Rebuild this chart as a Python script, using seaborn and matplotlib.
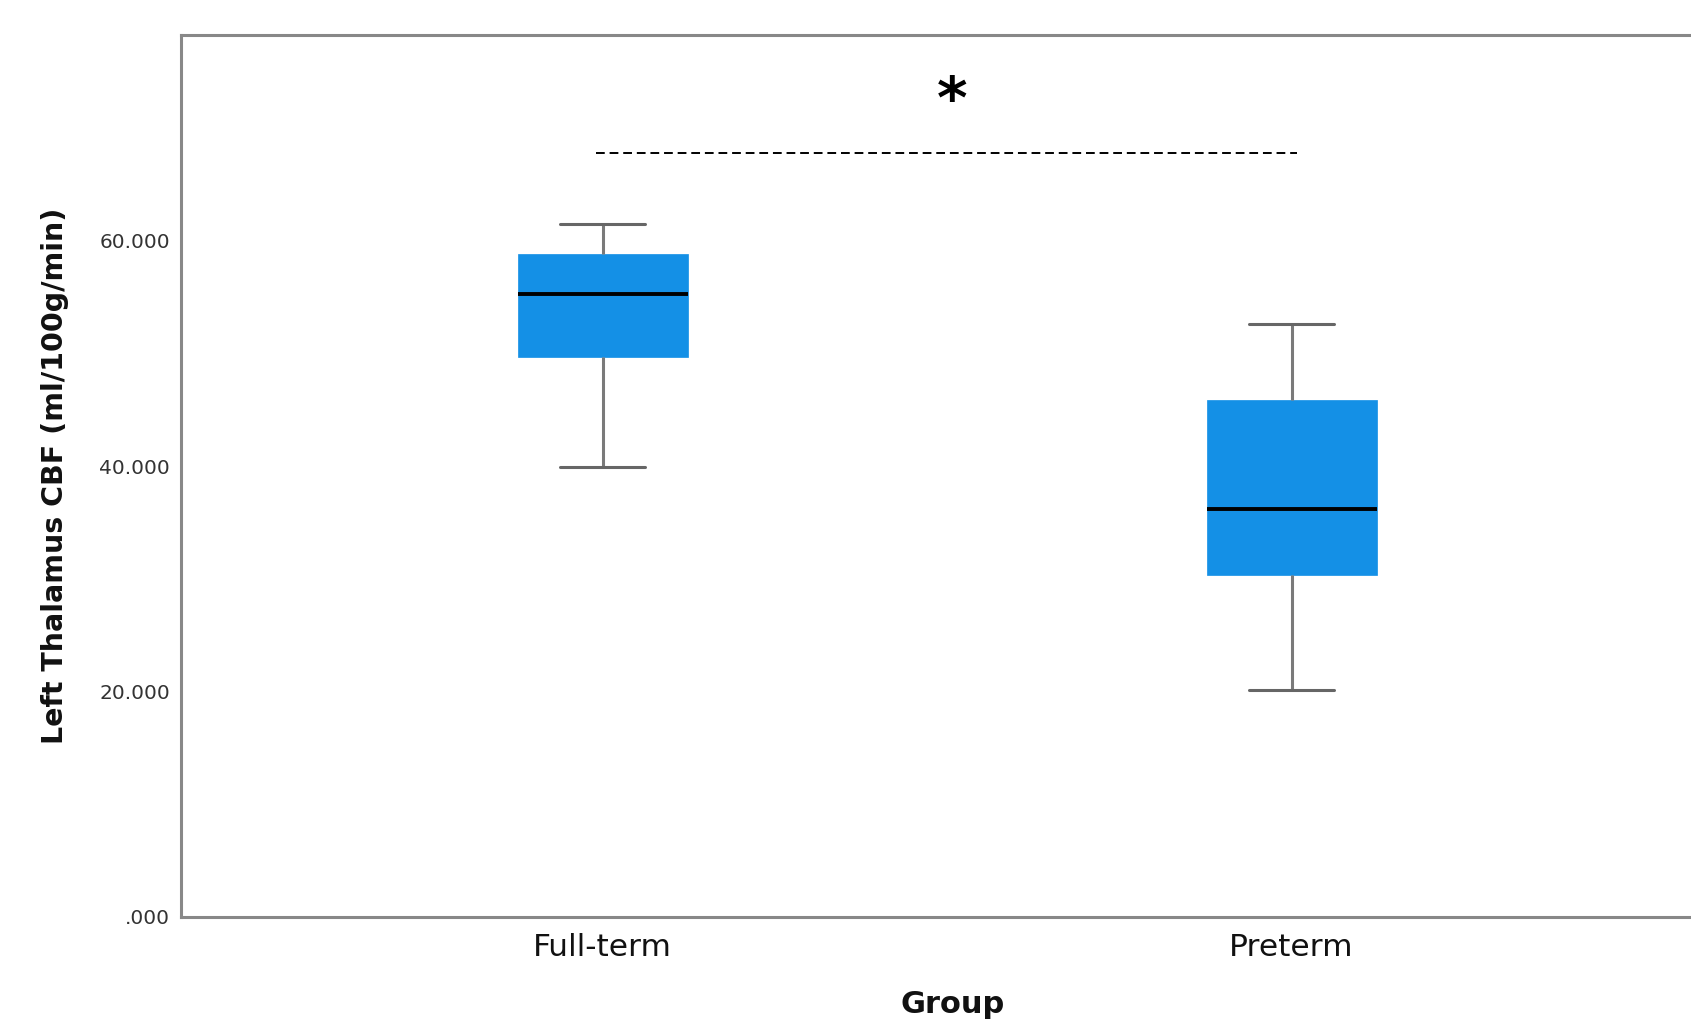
import matplotlib
matplotlib.use("Agg")
import matplotlib.pyplot as plt
import seaborn as sns
import pandas as pd
from matplotlib.ticker import FuncFormatter

# ---- data (five-number summaries) ----
groups = ["Full-term", "Preterm"]
fullterm_values = [39.9, 49.7, 55.3, 58.8, 61.5]
preterm_values = [20.1, 30.3, 36.2, 45.9, 52.6]
y_ticks = [0, 20, 40, 60]
sig_level = 67.75
sig_label = "*"

df = pd.DataFrame({
    "Group": [groups[0]] * len(fullterm_values) + [groups[1]] * len(preterm_values),
    "CBF": fullterm_values + preterm_values,
})

sns.set_theme(style="white")
plt.rcParams["font.family"] = ["DejaVu Sans"]

fig = plt.figure(figsize=(16.91, 10.25), dpi=100)
ax = fig.add_axes([0.1072, 0.1057, 0.9128, 0.8606])

box_color = "#1490E6"
grey = "#7a7a7a"
sns.boxplot(
    data=df, x="Group", y="CBF", order=groups, ax=ax,
    color=box_color, saturation=1, width=0.247, whis=1.5,
    boxprops=dict(facecolor=box_color, edgecolor=box_color, linewidth=0.5),
    whiskerprops=dict(color=grey, linewidth=2.2),
    capprops=dict(color="#666666", linewidth=2.2),
    medianprops=dict(color="black", linewidth=2.8),
    showfliers=False,
)

ax.set_xlim(-0.612, 1.629)
ax.set_ylim(0, 78.3)
ax.set_yticks(y_ticks)


def fmt(v, pos):
    s = f"{v:.3f}"
    if s.startswith("0"):
        s = s[1:]
    return s


ax.yaxis.set_major_formatter(FuncFormatter(fmt))
ax.tick_params(axis="y", length=0, pad=8, labelsize=14.5, labelcolor="#333333")
ax.tick_params(axis="x", length=0, pad=12)
for lab in ax.get_xticklabels():
    lab.set_fontsize(22.5)
    lab.set_color("#111111")

for side in ["left", "bottom", "top", "right"]:
    ax.spines[side].set_color("#888888")
    ax.spines[side].set_linewidth(2.2)

ax.set_xlabel("Group", fontsize=22, fontweight="bold", labelpad=20, color="#111111")
ax.set_ylabel("Left Thalamus CBF (ml/100g/min)", fontsize=20.5, fontweight="bold",
              labelpad=22, color="#111111")

# significance annotation
ax.plot([-0.01, 1.008], [sig_level, sig_level], color="black", linewidth=1.4,
        linestyle=(0, (4.5, 2.5)))
ax.text(0.507, 72.4, sig_label, ha="center", va="center", fontsize=42,
        fontweight="bold", color="black")

fig.savefig("out.png", dpi=100)
